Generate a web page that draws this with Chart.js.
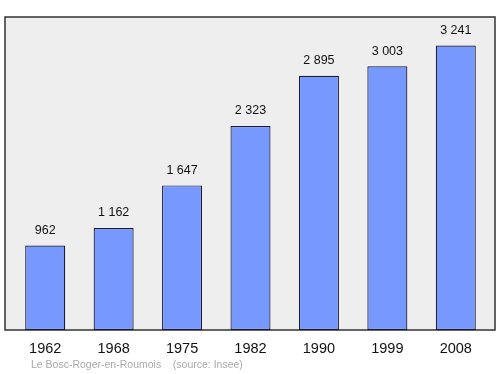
<!DOCTYPE html>
<html lang="fr">
<head>
  <meta charset="UTF-8">
  <title>Le Bosc-Roger-en-Roumois</title>
  <script src="https://cdn.jsdelivr.net/npm/chart.js"></script>
  <style>
    body { margin: 0; background: #fff; }
    #wrap { width: 500px; height: 374px; }
  </style>
</head>
<body>
  <div id="wrap"><canvas id="pop" width="500" height="374"></canvas></div>
  <script>
    const years = ['1962', '1968', '1975', '1982', '1990', '1999', '2008'];
    const population = [962, 1162, 1647, 2323, 2895, 3003, 3241];
    const footerText = 'Le Bosc-Roger-en-Roumois    (source: Insee)';

    const fmt = v => String(v).replace(/\B(?=(\d{3})+(?!\d))/g, ' ');

    // fond gris + cadre
    const frame = {
      id: 'frame',
      beforeDraw(chart) {
        const { ctx } = chart;
        ctx.save();
        ctx.fillStyle = '#eeeeee';
        ctx.fillRect(5, 17, 490, 313);
        ctx.strokeStyle = '#333';
        ctx.lineWidth = 1.5;
        ctx.strokeRect(5, 17, 490, 313);
        ctx.restore();
      },
      afterDatasetsDraw(chart) {
        const { ctx } = chart;
        ctx.save();
        ctx.font = '12.5px "Liberation Sans", Arial, sans-serif';
        ctx.fillStyle = '#111';
        ctx.textAlign = 'center';
        ctx.textBaseline = 'bottom';
        chart.getDatasetMeta(0).data.forEach((bar, i) => {
          ctx.fillText(fmt(population[i]), bar.x, bar.y - 9);
        });
        ctx.font = '10.5px "Liberation Sans", Arial, sans-serif';
        ctx.fillStyle = '#aaaaaa';
        ctx.textAlign = 'left';
        ctx.textBaseline = 'middle';
        ctx.fillText(footerText, 31, 365);
        ctx.restore();
      }
    };

    new Chart(document.getElementById('pop'), {
      type: 'bar',
      data: {
        labels: years,
        datasets: [{
          data: population,
          backgroundColor: '#7799ff',
          borderColor: '#1a1a33',
          borderWidth: 1.2,
          borderSkipped: false,
          barPercentage: 0.585,
          categoryPercentage: 1
        }]
      },
      options: {
        responsive: false,
        animation: false,
        layout: { padding: { left: 11, right: 10, top: 17, bottom: 0 } },
        plugins: { legend: { display: false }, tooltip: { enabled: false } },
        scales: {
          x: {
            grid: { display: false },
            border: { display: false },
            ticks: { color: '#111', font: { size: 14.5, family: '"Liberation Sans", Arial, sans-serif' }, padding: 2 },
            afterFit: s => { s.height = 44; }
          },
          y: { display: false, min: 0, max: 3565 }
        }
      },
      plugins: [frame]
    });
  </script>
</body>
</html>
